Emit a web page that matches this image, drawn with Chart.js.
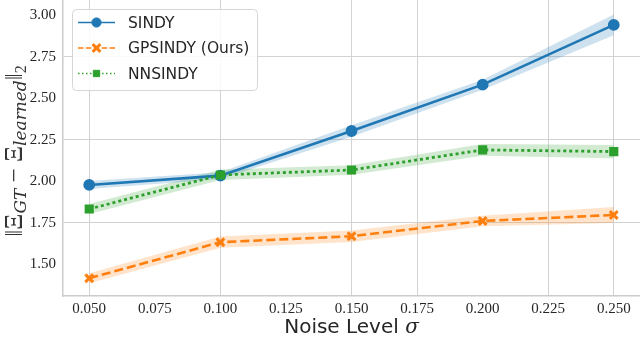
<!DOCTYPE html>
<html>
<head>
<meta charset="utf-8">
<script src="https://cdn.jsdelivr.net/npm/chart.js@4.4.0/dist/chart.umd.min.js"></script>
<style>
  html, body { margin: 0; padding: 0; background: #ffffff; }
  #wrap { width: 640px; height: 339px; }
</style>
</head>
<body>
<div id="wrap"><canvas id="noiseChart" width="640" height="339"></canvas></div>
<script>
// Noise levels (x) and tick marks
const noiseLevels = [0.05, 0.10, 0.15, 0.20, 0.25];
const xTicks = [0.050, 0.075, 0.100, 0.125, 0.150, 0.175, 0.200, 0.225, 0.250];
const yTicks = [1.50, 1.75, 2.00, 2.25, 2.50, 2.75, 3.00];

// SINDY mean and band
const sindyMean = [1.979, 2.035, 2.304, 2.583, 2.943];
const sindyLow = [1.955, 2.015, 2.270, 2.553, 2.880];
const sindyHigh = [2.003, 2.055, 2.338, 2.613, 3.006];

// GPSINDY (Ours) mean and band
const gpMean = [1.417, 1.634, 1.670, 1.762, 1.798];
const gpLow = [1.387, 1.600, 1.636, 1.730, 1.750];
const gpHigh = [1.447, 1.668, 1.704, 1.794, 1.846];

// NNSINDY mean and band
const nnMean = [1.834, 2.039, 2.069, 2.190, 2.180];
const nnLow = [1.804, 2.008, 2.040, 2.155, 2.140];
const nnHigh = [1.864, 2.070, 2.098, 2.225, 2.220];

// Gridlines that show up in the picture
const gridX = [0.050, 0.100, 0.150, 0.175, 0.225, 0.250];
const gridY = [1.75, 2.25, 2.75];

const gridColor = '#d3d3d3';
const textColor = '#262626';

function points(values) {
    return noiseLevels.map((x, i) => ({ x: x, y: values[i] }));
}

function hasValue(list, v) {
    return list.some(g => Math.abs(g - v) < 1e-6);
}

function bandPair(high, low, color) {
    const common = { isBand: true, backgroundColor: color, borderColor: 'rgba(0,0,0,0)',
                     borderWidth: 0, pointRadius: 0, order: 10 };
    return [
        Object.assign({ data: points(high), fill: '+1' }, common),
        Object.assign({ data: points(low), fill: false }, common)
    ];
}

const series = [
    { label: 'SINDY', data: points(sindyMean), borderColor: '#1f77b4', backgroundColor: '#1f77b4',
      borderWidth: 2.6, pointStyle: 'circle', pointRadius: 4.6, order: 3,
      legendDash: [] },
    { label: 'GPSINDY (Ours)', data: points(gpMean), borderColor: '#ff7f0e', backgroundColor: '#ff7f0e',
      borderWidth: 2.6, borderDash: [9, 4], pointStyle: 'crossRot', pointRadius: 5.5,
      pointBorderWidth: 3, order: 2, legendDash: [5.5, 2.4] },
    { label: 'NNSINDY', data: points(nnMean), borderColor: '#2ca02c', backgroundColor: '#2ca02c',
      borderWidth: 2.8, borderDash: [3, 3], pointStyle: 'rect', pointRadius: 4.5, order: 1,
      legendDash: [1.5, 2.5] }
];
series.forEach(s => { s.fill = false; s.tension = 0; });

const datasets = []
    .concat(bandPair(sindyHigh, sindyLow, 'rgba(31, 119, 180, 0.22)'))
    .concat(bandPair(gpHigh, gpLow, 'rgba(255, 127, 14, 0.22)'))
    .concat(bandPair(nnHigh, nnLow, 'rgba(44, 160, 44, 0.22)'))
    .concat(series);

/**
 * Draw a run of text pieces with their own fonts and vertical offsets
 */
function drawPieces(ctx, parts, centerX) {
    let total = 0;
    parts.forEach(p => { ctx.font = p.font; p.w = ctx.measureText(p.t).width; total += p.w; });
    let x = centerX - total / 2;
    parts.forEach(p => {
        ctx.font = p.font;
        ctx.fillText(p.t, x, p.dy);
        x += p.w;
    });
}

/**
 * Axis titles: x label with italic sigma, rotated y label with subscripts
 */
const axisTitlePlugin = {
    id: 'axisTitles',
    afterDraw(chart) {
        const ctx = chart.ctx;
        const area = chart.chartArea;
        ctx.save();
        ctx.fillStyle = textColor;
        ctx.textBaseline = 'alphabetic';

        // x: "Noise Level sigma"
        ctx.save();
        ctx.translate(0, 333);
        drawPieces(ctx, [
            { t: 'Noise Level ', font: '20px "DejaVu Sans"', dy: 0 },
            { t: '\u03C3', font: 'italic 20px "DejaVu Serif"', dy: 0 }
        ], (area.left + area.right) / 2);
        ctx.restore();

        // y: ||Xi_GT - Xi_learned||_2
        const upright = '25px "Liberation Serif"';
        const sub = 'italic 17px "DejaVu Serif"';
        ctx.save();
        ctx.fillStyle = '#333333';
        ctx.translate(22, (area.top + area.bottom) / 2 + 3);
        ctx.rotate(-Math.PI / 2);
        drawPieces(ctx, [
            { t: '\u2016', font: upright, dy: 0 },
            { t: '\u039E', font: upright, dy: 0 },
            { t: 'GT', font: sub, dy: 4 },
            { t: ' \u2212 ', font: upright, dy: 0 },
            { t: '\u039E', font: upright, dy: 0 },
            { t: 'learned', font: sub, dy: 4 },
            { t: '\u2016', font: upright, dy: 0 },
            { t: '2', font: '16px "Liberation Serif"', dy: 4 }
        ], 0);
        ctx.restore();
        ctx.restore();
    }
};

/**
 * Legend box in the upper-left corner, line sample plus marker
 */
const legendPlugin = {
    id: 'boxLegend',
    afterDraw(chart) {
        const ctx = chart.ctx;
        const entries = chart.data.datasets.filter(d => !d.isBand);
        ctx.save();
        ctx.beginPath();
        ctx.roundRect(72.5, 9.5, 185, 81, 4);
        ctx.fillStyle = 'rgba(255, 255, 255, 0.85)';
        ctx.fill();
        ctx.strokeStyle = '#d6d6d6';
        ctx.lineWidth = 1;
        ctx.stroke();

        entries.forEach((d, i) => {
            const y = 22.5 + i * 25.5;
            ctx.strokeStyle = d.borderColor;
            ctx.lineWidth = 1.5;
            ctx.setLineDash(d.legendDash);
            ctx.beginPath();
            ctx.moveTo(78, y);
            ctx.lineTo(115, y);
            ctx.stroke();
            ctx.setLineDash([]);
            ctx.fillStyle = d.borderColor;
            ctx.lineWidth = d.pointBorderWidth || 1;
            Chart.helpers.drawPoint(ctx, {
                pointStyle: d.pointStyle,
                rotation: 0,
                radius: d.pointRadius,
                borderWidth: d.pointBorderWidth || 1
            }, 96.5, y);

            ctx.fillStyle = textColor;
            ctx.font = '15.5px "DejaVu Sans"';
            ctx.textBaseline = 'middle';
            ctx.fillText(d.label, 128, y + 1);
        });
        ctx.restore();
    }
};

const config = {
    type: 'line',
    data: { datasets: datasets },
    options: {
        responsive: false,
        animation: false,
        devicePixelRatio: 1,
        layout: { padding: 0, autoPadding: false },
        plugins: {
            legend: { display: false },
            tooltip: { enabled: false }
        },
        scales: {
            x: {
                type: 'linear',
                min: 0.04,
                max: 0.26,
                afterFit: scale => {
                    scale.height = 43;
                    scale.paddingLeft = 0;
                    scale.paddingRight = 0;
                },
                ticks: {
                    stepSize: xTicks[1] - xTicks[0],
                    includeBounds: false,
                    padding: 4,
                    maxRotation: 0,
                    autoSkip: false,
                    color: textColor,
                    font: { family: '"Liberation Serif"', size: 15 },
                    callback: value => value.toFixed(3)
                },
                grid: {
                    drawTicks: false,
                    lineWidth: 1,
                    color: c => (c.tick && hasValue(gridX, c.tick.value)) ? gridColor : 'rgba(0,0,0,0)'
                },
                border: { display: true, color: '#cccccc', width: 1.5 }
            },
            y: {
                type: 'linear',
                min: 1.31,
                max: 3.093,
                afterFit: scale => {
                    scale.width = 63;
                    scale.paddingTop = 0;
                    scale.paddingBottom = 0;
                },
                ticks: {
                    stepSize: yTicks[1] - yTicks[0],
                    includeBounds: false,
                    padding: 7,
                    color: textColor,
                    font: { family: '"Liberation Serif"', size: 15 },
                    callback: value => value.toFixed(2)
                },
                grid: {
                    drawTicks: false,
                    lineWidth: 1,
                    color: c => (c.tick && hasValue(gridY, c.tick.value)) ? gridColor : 'rgba(0,0,0,0)'
                },
                border: { display: true, color: '#cccccc', width: 1.5 }
            }
        }
    },
    plugins: [axisTitlePlugin, legendPlugin]
};

new Chart(document.getElementById('noiseChart').getContext('2d'), config);
</script>
</body>
</html>
